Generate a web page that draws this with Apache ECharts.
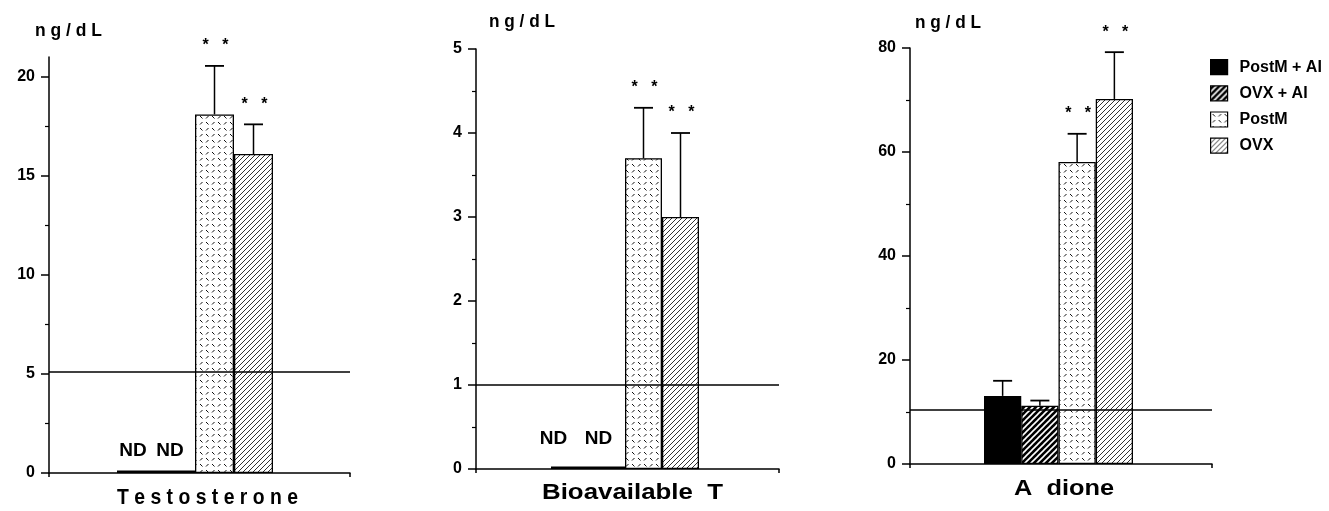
<!DOCTYPE html>
<html><head><meta charset="utf-8">
<script src="https://cdn.jsdelivr.net/npm/echarts@6/dist/echarts.min.js"></script>
<style>html,body{margin:0;padding:0;background:#fff}#c{width:1329px;height:511px}</style>
</head><body><div id="c"></div>
<script>
// ---------------- data ----------------
const categories = ['Testosterone', 'Bioavailable  T', 'A  dione'];
const groups = ['PostM + AI', 'OVX + AI', 'PostM', 'OVX'];
const unitLabel = 'ng/dL';
const testosteroneMean = [0.12, 0.12, 18.1, 16.1];
const testosteroneUpper = [null, null, 20.55, 17.6];
const bioTMean = [0.03, 0.03, 3.7, 3.0];
const bioTUpper = [null, null, 4.3, 4.0];
const adioneMean = [13.1, 11.2, 58.1, 70.2];
const adioneUpper = [16.0, 12.2, 63.5, 79.2];
const notDetected = [[true, true, false, false], [true, true, false, false], [false, false, false, false]];
const significant = [[false, false, true, true], [false, false, true, true], [false, false, true, true]];
const normalLimit = [5.1, 1.0, 10.4];
const yMax = [21, 5, 80];
const yStep = [5, 1, 20];
const majorTicks = [[0, 5, 10, 15, 20], [0, 1, 2, 3, 4, 5], [0, 20, 40, 60, 80]];
const minorTicks = [[2.5, 7.5, 12.5, 17.5], [0.5, 1.5, 2.5, 3.5, 4.5], [10, 30, 50, 70]];
const starText = '*   *';
const ndText = 'ND';

const means = [testosteroneMean, bioTMean, adioneMean];
const uppers = [testosteroneUpper, bioTUpper, adioneUpper];

// ---------------- layout / style ----------------
const FF = '"Liberation Sans", Arial, Helvetica, sans-serif';
const grids = [
  { left: 49, top: 57, width: 301, height: 416 },
  { left: 476, top: 49, width: 303, height: 420 },
  { left: 910, top: 48, width: 302, height: 416 }
];
const barW = [39, 37, 37.25];
const spacerW = [9, 5, 5];
const ndOffset = [[-3.5, -5.5], [-16, -8], [0, 0]];
const ndDist = [10, 18, 0];

function mk(w, h, draw) {
  const c = document.createElement('canvas'); c.width = w; c.height = h;
  const g = c.getContext('2d'); draw(g); return c;
}
function lines(g, arr) { arr.forEach(l => { g.beginPath(); g.moveTo(l[0], l[1]); g.lineTo(l[2], l[3]); g.stroke(); }); }
const patOvxAi = mk(6, 6, g => {
  g.fillStyle = '#000'; g.fillRect(0, 0, 6, 6);
  g.strokeStyle = '#fff'; g.lineWidth = 1.6;
  lines(g, [[0, 6, 6, 0], [-1, 1, 1, -1], [5, 7, 7, 5]]);
});
const patPostM = mk(12, 12, g => {
  g.fillStyle = '#fff'; g.fillRect(0, 0, 12, 12);
  g.strokeStyle = '#111'; g.lineWidth = 1;
  lines(g, [[2, 2, 4.5, 4.5], [8, 4.5, 10.5, 2], [2, 10.5, 4.5, 8], [8, 8, 10.5, 10.5]]);
});
const patOvx = mk(5, 5, g => {
  g.fillStyle = '#fff'; g.fillRect(0, 0, 5, 5);
  g.strokeStyle = '#333'; g.lineWidth = 1;
  lines(g, [[0, 5, 5, 0], [-1, 1, 1, -1], [4, 6, 6, 4]]);
});
const fills = ['#000', { image: patOvxAi, repeat: 'repeat' }, { image: patPostM, repeat: 'repeat' }, { image: patOvx, repeat: 'repeat' }];

const mctx = document.createElement('canvas').getContext('2d');
function stretched(str, left, cy, targetW, size) {
  const font = 'bold ' + size + 'px ' + FF;
  mctx.font = font;
  const w = mctx.measureText(str).width;
  return { type: 'text', x: left, y: cy, scaleX: targetW / w, silent: true,
    style: { text: str, font: font, fill: '#000', align: 'left', verticalAlign: 'middle' } };
}
const spaced = s => s.split('').join(' ');

const graphics = [
  stretched(spaced(unitLabel), 35, 31, 67, 19),
  stretched(spaced(unitLabel), 489, 22, 66, 19),
  stretched(spaced(unitLabel), 915, 23, 66, 19),
  stretched(spaced(categories[0]), 117, 498, 181, 22),
  stretched(categories[1], 542, 493, 181, 22),
  stretched(categories[2], 1014, 489, 100, 22)
];

const xAxes = [], yAxes = [], series = [];
for (let p = 0; p < 3; p++) {
  xAxes.push({ type: 'category', gridIndex: p, data: [categories[p]],
    axisLine: { lineStyle: { color: '#000', width: 1.5 } },
    axisTick: { show: true, length: 4, lineStyle: { color: '#000', width: 1.5 } },
    axisLabel: { show: false }, splitLine: { show: false } });
  yAxes.push({ type: 'value', gridIndex: p, min: 0, max: yMax[p], interval: yStep[p], position: 'left',
    axisLine: { show: true, lineStyle: { color: '#000', width: 1.5 } },
    axisTick: { show: true, length: 8, customValues: majorTicks[p], lineStyle: { color: '#000', width: 1.5 } },
    axisLabel: { customValues: majorTicks[p], margin: 14, color: '#000', fontFamily: FF, fontWeight: 'bold', fontSize: 16 },
    splitLine: { show: false } });
  yAxes.push({ type: 'value', gridIndex: p, min: 0, max: yMax[p], interval: yStep[p], position: 'left',
    axisLine: { show: false },
    axisTick: { show: true, length: 4, customValues: minorTicks[p], lineStyle: { color: '#000', width: 1.2 } },
    axisLabel: { show: false }, splitLine: { show: false } });

  for (let i = 0; i < 4; i++) {
    const item = { value: means[p][i] };
    if (notDetected[p][i]) {
      item.label = { show: true, formatter: ndText, position: 'top', distance: ndDist[p], offset: [ndOffset[p][i], 0],
        color: '#000', fontFamily: FF, fontWeight: 'bold', fontSize: 19 };
    }
    series.push({ name: groups[i], type: 'bar', xAxisIndex: p, yAxisIndex: 2 * p, barWidth: barW[p], barGap: '0%',
      itemStyle: { color: fills[i], borderColor: '#000', borderWidth: notDetected[p][i] ? 1.8 : 1.3 }, data: [item] });
  }
  series.push({ type: 'bar', xAxisIndex: p, yAxisIndex: 2 * p, barWidth: spacerW[p], barGap: '0%', silent: true,
    itemStyle: { color: 'transparent' }, data: [null] });

  const W = 4 * barW[p] + spacerW[p];
  const errData = [];
  for (let i = 0; i < 4; i++) {
    if (uppers[p][i] != null) errData.push([0, means[p][i], uppers[p][i], i, significant[p][i] ? 1 : 0]);
  }
  series.push({ type: 'custom', xAxisIndex: p, yAxisIndex: 2 * p, z: 5, silent: true,
    encode: { x: 0, y: 1 },
    data: errData,
    renderItem: function (params, api) {
      const idx = api.value(3);
      const base = api.coord([api.value(0), api.value(1)]);
      const top = api.coord([api.value(0), api.value(2)]);
      const cx = base[0] - W / 2 + barW[p] * (idx + 0.5);
      const children = [
        { type: 'line', shape: { x1: cx, y1: base[1], x2: cx, y2: top[1] }, style: { stroke: '#000', lineWidth: 1.5 } },
        { type: 'line', shape: { x1: cx - 9.5, y1: top[1], x2: cx + 9.5, y2: top[1] }, style: { stroke: '#000', lineWidth: 1.8 } }
      ];
      if (api.value(4)) {
        children.push({ type: 'text', x: cx + 1, y: top[1] - 20,
          style: { text: starText, font: 'bold 16px ' + FF, fill: '#000', align: 'center', verticalAlign: 'middle' } });
      }
      return { type: 'group', children: children };
    },
    markLine: { silent: true, symbol: 'none', label: { show: false }, animation: false,
      lineStyle: { color: '#000', width: 1.5, type: 'solid' },
      data: [{ yAxis: normalLimit[p] }] }
  });
}

const chart = echarts.init(document.getElementById('c'), null, { renderer: 'canvas' });
chart.setOption({
  animation: false,
  backgroundColor: '#fff',
  grid: grids,
  xAxis: xAxes,
  yAxis: yAxes,
  legend: {
    data: groups, orient: 'vertical', left: 1205, top: 54, icon: 'rect',
    itemWidth: 17, itemHeight: 15, itemGap: 10,
    itemStyle: { borderColor: '#000', borderWidth: 1.2 },
    textStyle: { color: '#000', fontFamily: FF, fontWeight: 'bold', fontSize: 16, lineHeight: 16, padding: [0, 0, 0, 7] },
    selectedMode: false
  },
  graphic: graphics,
  series: series
});
</script></body></html>
